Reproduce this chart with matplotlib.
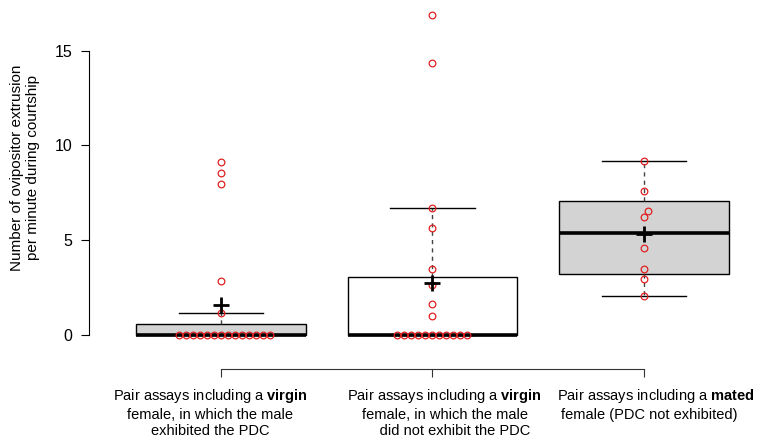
import numpy as np
import matplotlib
matplotlib.use("Agg")
import matplotlib.pyplot as plt

plt.rcParams['font.family'] = ['Liberation Sans', 'DejaVu Sans']
plt.rcParams['mathtext.fontset'] = 'custom'
plt.rcParams['mathtext.rm'] = 'Liberation Sans'
plt.rcParams['mathtext.bf'] = 'Liberation Sans:bold'

# ovipositor extrusions per minute, one list per assay group
virgin_pdc = [0, 0, 0, 0, 0, 0, 0, 0, 0, 0, 0, 0, 0, 0,
              1.18, 2.87, 7.95, 8.57, 9.15]
virgin_no_pdc = [0, 0, 0, 0, 0, 0, 0, 0, 0, 0, 0,
                 1.02, 1.62, 2.64, 3.48, 5.65, 6.70, 14.37, 16.90]
mated = [2.07, 2.94, 3.47, 4.57, 6.23, 6.54, 7.62, 9.16]

groups = [virgin_pdc, virgin_no_pdc, mated]
box_fill = ['#d3d3d3', 'white', '#d3d3d3']
xlabels = [
    "Pair assays including a $\\mathbf{virgin}$\nfemale, in which the male\nexhibited the PDC",
    "Pair assays including a $\\mathbf{virgin}$\nfemale, in which the male\n     did not exhibit the PDC",
    "Pair assays including a $\\mathbf{mated}$\nfemale (PDC not exhibited)   ",
]
label_shift = [-0.052, 0.058, 0.056]


def fivenum(v):
    x = np.sort(np.asarray(v, float))
    n = len(x)
    n4 = np.floor((n + 3) / 2) / 2
    d = np.array([1, n4, (n + 1) / 2, n + 1 - n4, n]) - 1
    return 0.5 * (x[np.floor(d).astype(int)] + x[np.ceil(d).astype(int)])


def box_stats(v):
    # R's boxplot.stats (hinges, 1.5 * IQR whiskers)
    x = np.asarray(v, float)
    s = fivenum(x)
    iqr = s[3] - s[1]
    keep = x[(x >= s[1] - 1.5 * iqr) & (x <= s[3] + 1.5 * iqr)]
    return dict(med=s[2], q1=s[1], q3=s[3], whislo=keep.min(),
                whishi=keep.max(), mean=x.mean(), fliers=[])


def swarm(ys, diam):
    # beeswarm-like horizontal offsets (pixels), ascending priority
    placed = []
    offs = np.zeros(len(ys))
    for i in np.argsort(ys, kind='stable'):
        y = ys[i]
        cands = [0.0]
        for px, py in placed:
            dy = abs(py - y)
            if dy < diam:
                dx = np.sqrt(diam ** 2 - dy ** 2)
                cands += [px + dx, px - dx]
        cands.sort(key=lambda c: (round(abs(c), 6), -c))
        for c in cands:
            if all((c - px) ** 2 + (y - py) ** 2 >= diam ** 2 - 1e-6
                   for px, py in placed):
                break
        offs[i] = c
        placed.append((c, y))
    return offs


fig = plt.figure(figsize=(7.59, 4.37), dpi=100)
ax = fig.add_axes([89 / 759, 89 / 437, 670 / 759, 346 / 437])
ax.set_xlim(0.376, 3.544)
ax.set_ylim(-0.686, 17.57)

pos = [1, 2, 3]
stats = [box_stats(g) for g in groups]
bp = ax.bxp(stats, positions=pos, widths=0.8, patch_artist=True,
            showfliers=False, showmeans=False,
            boxprops=dict(edgecolor='black', linewidth=1.0),
            medianprops=dict(color='black', linewidth=2.6),
            whiskerprops=dict(color='#444444', linewidth=1.0, linestyle=(0, (3, 3))),
            capprops=dict(color='black', linewidth=1.0),
            capwidths=0.4)
for patch, fc in zip(bp['boxes'], box_fill):
    patch.set_facecolor(fc)

# points, spread like a beeswarm
px_x = ax.transData.transform((2, 0))[0] - ax.transData.transform((1, 0))[0]
px_y = ax.transData.transform((0, 1))[1] - ax.transData.transform((0, 0))[1]
for p, g in zip(pos, groups):
    ys = np.asarray(g, float)
    offs = swarm(ys * px_y, 7.0) / px_x
    ax.plot(p + offs, ys, linestyle='none', marker='o', markersize=4.8,
            markerfacecolor='none', markeredgecolor='#e02020',
            markeredgewidth=0.9, zorder=4)

# means
for p, s in zip(pos, stats):
    ax.plot(p, s['mean'], marker='+', markersize=12, markeredgewidth=2,
            color='black', zorder=5)

for side in ['top', 'right']:
    ax.spines[side].set_visible(False)
ax.spines['left'].set_bounds(0, 15)
ax.spines['bottom'].set_bounds(1, 3)
ax.spines['bottom'].set_position(('outward', 15))
ax.spines['left'].set_linewidth(0.8)
ax.spines['bottom'].set_linewidth(0.8)
ax.spines['bottom'].set_color('#333333')

ax.set_yticks([0, 5, 10, 15])
ax.set_xticks(pos)
ax.set_xticklabels([])
ax.tick_params(axis='y', length=5.8, width=0.8, pad=6, labelsize=11.5)
ax.tick_params(axis='x', length=5.8, width=0.8, color='#333333')

for p, lab, sh in zip(pos, xlabels, label_shift):
    ax.text(p + sh, -0.112, lab, transform=ax.get_xaxis_transform(),
            ha='center', va='top', multialignment='center',
            fontsize=10.5, linespacing=1.25)

fig.text(25 / 759, 1 - 168 / 437,
         "Number of ovipositor extrusion\nper minute during courtship",
         rotation=90, ha='center', va='center', fontsize=11,
         linespacing=1.2)

fig.savefig('out.png', dpi=100)
